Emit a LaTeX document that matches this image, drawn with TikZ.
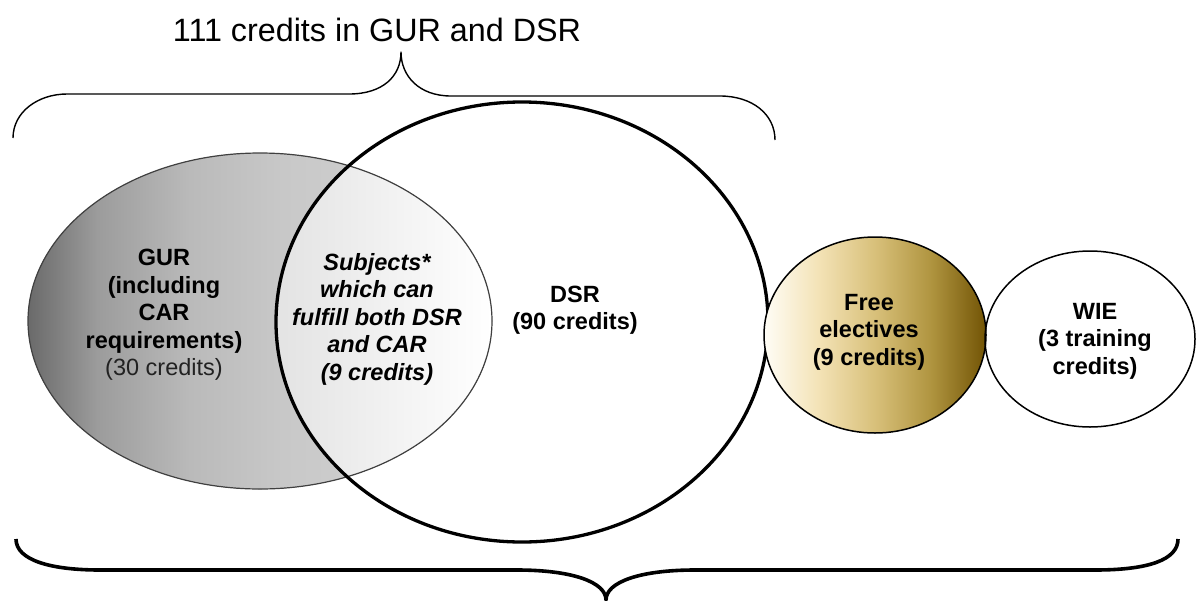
\documentclass[tikz,border=0pt]{standalone}
\usepackage{fontspec}
\setmainfont{Liberation Sans}
\usetikzlibrary{shapes.geometric}
\definecolor{gA}{HTML}{6A6A6A}
\definecolor{gB}{HTML}{9C9C9C}
\definecolor{gC}{HTML}{BABABA}
\definecolor{gD}{HTML}{C8C8C8}
\definecolor{gE}{HTML}{D6D6D6}
\definecolor{iA}{HTML}{E4E4E4}
\definecolor{iB}{HTML}{E8E8E8}
\definecolor{iC}{HTML}{FFFFFF}
\definecolor{fA}{HTML}{FFFDF6}
\definecolor{fB}{HTML}{F3E2B5}
\definecolor{fC}{HTML}{D8C07A}
\definecolor{fD}{HTML}{B09540}
\definecolor{fE}{HTML}{725405}
\definecolor{subtle}{HTML}{222222}
% path bounding box maps onto 25bp..75bp of the declared shading
\pgfdeclarehorizontalshading{gurshade}{100bp}{color(0bp)=(gA); color(25bp)=(gA); color(32.5bp)=(gB); color(42.5bp)=(gC); color(52.5bp)=(gD); color(75bp)=(gE); color(100bp)=(gE)}
\pgfdeclarehorizontalshading{intshade}{100bp}{color(0bp)=(iA); color(52.5bp)=(iA); color(56bp)=(iB); color(75bp)=(iC); color(100bp)=(iC)}
\pgfdeclarehorizontalshading{freeshade}{100bp}{color(0bp)=(fA); color(25bp)=(fA); color(37.5bp)=(fB); color(50bp)=(fC); color(62.5bp)=(fD); color(75bp)=(fE); color(100bp)=(fE)}
\begin{document}
\begin{tikzpicture}[x=1pt,y=-1pt,
  lbl/.style={align=center, font=\fontsize{23.5}{27.5}\selectfont\bfseries, inner sep=0pt},
  thinbrace/.style={line width=1.4pt, line join=round},
  thickbrace/.style={line width=3.6pt, line join=round}]
\useasboundingbox (0,0) rectangle (1204,600);
% GUR ellipse
\fill[shading=gurshade] (260,321) ellipse [x radius=232pt, y radius=168pt];
\begin{scope}
  \clip (522,322) ellipse [x radius=246pt, y radius=220pt];
  \fill[shading=intshade] (260,321) ellipse [x radius=232pt, y radius=168pt];
\end{scope}
\draw[black!75, line width=1.2pt] (260,321) ellipse [x radius=232pt, y radius=168pt];
% DSR ellipse
\draw[line width=3.3pt] (522,322) ellipse [x radius=246pt, y radius=220pt];
% Free electives
\draw[shading=freeshade, line width=1.5pt] (875,335) ellipse [x radius=111pt, y radius=98pt];
% WIE
\draw[line width=1.5pt] (1090,339) ellipse [x radius=105pt, y radius=88pt];
% texts
\node[lbl] (gur) at (164,315) {GUR\\(including\\CAR\\requirements)\\{\mdseries\color{subtle}(30 credits)}};
\node[lbl, font=\fontsize{23.5}{27.5}\selectfont\bfseries\itshape] (both) at (377,319) {Subjects*\\which can\\fulfill both DSR\\and CAR\\(9 credits)};
\node[lbl] (dsr) at (575,310) {DSR\\(90 credits)};
\node[lbl] (free) at (869,332) {Free\\electives\\(9 credits)};
\node[lbl] (wie) at (1095,341) {WIE\\(3 training\\credits)};
\node[font=\fontsize{32.3}{36}\selectfont, inner sep=0pt] (top) at (377,30) {111 credits in GUR and DSR};
% top brace
\draw[thinbrace] (13,138) .. controls (13,112) and (38,94) .. (67,94) -- (349,94)
  .. controls (383,94) and (401,76) .. (401,52)
  .. controls (401,76) and (419,96) .. (451,96) -- (720,96)
  .. controls (752,96) and (775,114) .. (775,140);
% bottom brace
\draw[thickbrace] (16,539) .. controls (16,560) and (50,570) .. (100,570) -- (517,570)
  .. controls (572,570) and (606,582) .. (606,600)
  .. controls (606,582) and (640,570) .. (695,570) -- (1095,570)
  .. controls (1148,570) and (1178,560) .. (1178,539);
\end{tikzpicture}
\end{document}
